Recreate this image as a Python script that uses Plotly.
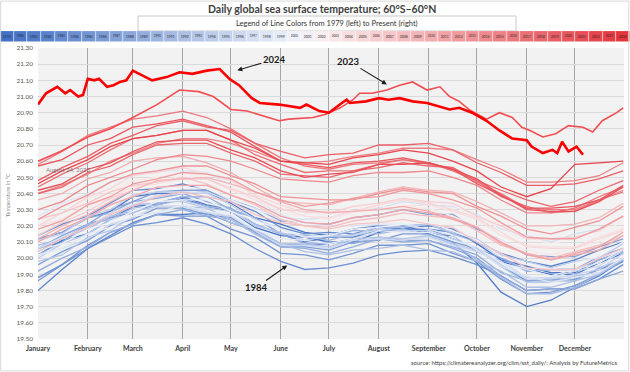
import plotly.graph_objects as go

W, H = 630, 372

# ---------------- data ----------------
days = [1, 16, 32, 46, 60, 75, 91, 106, 121, 136, 152, 167, 182, 197, 213, 228,
        244, 259, 274, 289, 305, 320, 335, 350, 365]

years = list(range(1979, 2025))

sst_1979 = [20.02, 20.11, 20.15, 20.24, 20.32, 20.33, 20.37, 20.32, 20.29, 20.19, 20.14, 20.13, 20.10, 20.10, 20.16, 20.19, 20.15, 20.14, 20.04, 19.98, 19.93, 19.90, 19.90, 19.97, 20.03]
sst_1980 = [20.12, 20.16, 20.25, 20.29, 20.38, 20.40, 20.40, 20.41, 20.34, 20.25, 20.21, 20.16, 20.14, 20.18, 20.20, 20.19, 20.20, 20.18, 20.09, 19.99, 19.95, 19.91, 19.91, 19.99, 20.04]
sst_1981 = [20.06, 20.10, 20.21, 20.25, 20.28, 20.34, 20.38, 20.33, 20.30, 20.25, 20.15, 20.10, 20.13, 20.13, 20.17, 20.20, 20.16, 20.10, 19.97, 19.79, 19.70, 19.74, 19.82, 19.89, 19.99]
sst_1982 = [19.80, 19.93, 20.06, 20.14, 20.22, 20.27, 20.27, 20.28, 20.22, 20.17, 20.09, 20.08, 20.09, 20.12, 20.17, 20.17, 20.18, 20.16, 20.10, 20.03, 19.98, 19.95, 19.99, 20.05, 20.10]
sst_1983 = [20.14, 20.21, 20.26, 20.34, 20.42, 20.43, 20.46, 20.42, 20.35, 20.29, 20.19, 20.15, 20.16, 20.15, 20.19, 20.18, 20.18, 20.12, 20.06, 19.95, 19.86, 19.87, 19.87, 19.93, 19.98]
sst_1984 = [19.88, 19.96, 20.06, 20.13, 20.20, 20.22, 20.25, 20.21, 20.15, 20.06, 19.98, 19.93, 19.94, 19.97, 20.02, 20.04, 20.05, 20.01, 19.96, 19.89, 19.80, 19.81, 19.81, 19.87, 19.96]
sst_1985 = [19.86, 19.96, 20.08, 20.16, 20.21, 20.27, 20.26, 20.26, 20.18, 20.13, 20.03, 20.02, 19.99, 20.03, 20.08, 20.08, 20.09, 20.03, 19.98, 19.87, 19.78, 19.79, 19.83, 19.90, 19.98]
sst_1986 = [19.96, 20.04, 20.11, 20.20, 20.24, 20.31, 20.31, 20.27, 20.25, 20.16, 20.07, 20.07, 20.05, 20.10, 20.11, 20.15, 20.15, 20.10, 20.06, 20.00, 19.92, 19.93, 19.93, 20.01, 20.06]
sst_1987 = [20.06, 20.14, 20.21, 20.30, 20.35, 20.41, 20.42, 20.42, 20.36, 20.31, 20.23, 20.22, 20.21, 20.25, 20.27, 20.30, 20.27, 20.27, 20.18, 20.11, 20.02, 20.01, 20.01, 20.07, 20.12]
sst_1988 = [20.12, 20.16, 20.25, 20.28, 20.35, 20.37, 20.40, 20.35, 20.31, 20.21, 20.15, 20.09, 20.10, 20.09, 20.13, 20.11, 20.11, 20.06, 20.00, 19.89, 19.80, 19.81, 19.81, 19.87, 19.92]
sst_1989 = [19.92, 20.00, 20.07, 20.16, 20.21, 20.27, 20.30, 20.26, 20.24, 20.15, 20.07, 20.06, 20.03, 20.07, 20.12, 20.10, 20.11, 20.07, 20.02, 19.91, 19.86, 19.86, 19.86, 19.94, 19.99]
sst_1990 = [20.02, 20.10, 20.20, 20.25, 20.33, 20.34, 20.38, 20.38, 20.30, 20.25, 20.15, 20.14, 20.13, 20.17, 20.17, 20.20, 20.21, 20.15, 20.10, 20.01, 19.92, 19.93, 19.93, 19.99, 20.04]
sst_1991 = [20.08, 20.12, 20.21, 20.24, 20.31, 20.33, 20.36, 20.32, 20.30, 20.21, 20.15, 20.14, 20.11, 20.15, 20.15, 20.18, 20.14, 20.09, 19.99, 19.88, 19.78, 19.78, 19.82, 19.90, 20.00]
sst_1992 = [20.05, 20.13, 20.18, 20.26, 20.29, 20.32, 20.32, 20.31, 20.24, 20.15, 20.09, 20.04, 20.02, 20.05, 20.06, 20.08, 20.05, 20.04, 19.98, 19.92, 19.82, 19.82, 19.86, 19.90, 19.99]
sst_1993 = [19.98, 20.02, 20.13, 20.17, 20.26, 20.28, 20.33, 20.29, 20.22, 20.18, 20.09, 20.09, 20.07, 20.12, 20.13, 20.12, 20.14, 20.09, 20.05, 19.95, 19.85, 19.85, 19.89, 19.91, 20.00]
sst_1994 = [20.00, 20.09, 20.15, 20.24, 20.28, 20.35, 20.35, 20.31, 20.29, 20.20, 20.16, 20.11, 20.14, 20.14, 20.20, 20.19, 20.21, 20.16, 20.12, 20.02, 19.98, 19.94, 19.98, 20.00, 20.09]
sst_1995 = [20.11, 20.15, 20.26, 20.30, 20.39, 20.41, 20.41, 20.40, 20.33, 20.24, 20.18, 20.13, 20.14, 20.14, 20.18, 20.17, 20.17, 20.12, 20.06, 19.96, 19.87, 19.87, 19.90, 19.93, 20.03]
sst_1996 = [20.02, 20.06, 20.12, 20.21, 20.25, 20.32, 20.32, 20.28, 20.26, 20.17, 20.08, 20.08, 20.06, 20.11, 20.12, 20.11, 20.13, 20.08, 20.04, 19.98, 19.88, 19.88, 19.92, 19.95, 20.05]
sst_1997 = [20.06, 20.13, 20.19, 20.28, 20.33, 20.39, 20.40, 20.41, 20.35, 20.31, 20.25, 20.24, 20.25, 20.29, 20.31, 20.35, 20.33, 20.32, 20.27, 20.18, 20.14, 20.10, 20.15, 20.18, 20.26]
sst_1998 = [20.26, 20.34, 20.40, 20.47, 20.51, 20.54, 20.54, 20.53, 20.45, 20.36, 20.27, 20.22, 20.20, 20.20, 20.21, 20.21, 20.18, 20.14, 20.05, 19.95, 19.89, 19.85, 19.88, 19.91, 20.00]
sst_1999 = [20.02, 20.06, 20.15, 20.19, 20.26, 20.28, 20.33, 20.29, 20.27, 20.18, 20.12, 20.11, 20.09, 20.12, 20.17, 20.16, 20.16, 20.11, 20.07, 19.97, 19.93, 19.89, 19.93, 19.97, 20.06]
sst_2000 = [20.05, 20.09, 20.18, 20.22, 20.29, 20.35, 20.36, 20.36, 20.29, 20.23, 20.18, 20.13, 20.14, 20.18, 20.19, 20.21, 20.22, 20.17, 20.11, 20.01, 19.96, 19.93, 19.97, 20.01, 20.10]
sst_2001 = [20.10, 20.18, 20.25, 20.33, 20.38, 20.44, 20.44, 20.43, 20.36, 20.30, 20.25, 20.21, 20.23, 20.24, 20.25, 20.28, 20.26, 20.25, 20.17, 20.11, 20.03, 20.03, 20.04, 20.08, 20.17]
sst_2002 = [20.16, 20.24, 20.31, 20.39, 20.44, 20.47, 20.51, 20.48, 20.45, 20.37, 20.32, 20.28, 20.27, 20.31, 20.33, 20.36, 20.34, 20.33, 20.25, 20.19, 20.13, 20.09, 20.12, 20.15, 20.23]
sst_2003 = [20.24, 20.28, 20.37, 20.41, 20.48, 20.50, 20.53, 20.49, 20.43, 20.38, 20.28, 20.26, 20.24, 20.28, 20.32, 20.31, 20.31, 20.26, 20.20, 20.10, 20.05, 20.02, 20.06, 20.10, 20.19]
sst_2004 = [20.20, 20.24, 20.33, 20.37, 20.44, 20.46, 20.49, 20.49, 20.42, 20.36, 20.31, 20.26, 20.25, 20.29, 20.30, 20.32, 20.33, 20.29, 20.24, 20.14, 20.08, 20.07, 20.07, 20.13, 20.18]
sst_2005 = [20.20, 20.28, 20.38, 20.43, 20.51, 20.53, 20.56, 20.52, 20.48, 20.39, 20.33, 20.28, 20.29, 20.29, 20.33, 20.36, 20.34, 20.30, 20.25, 20.16, 20.07, 20.06, 20.06, 20.12, 20.17]
sst_2006 = [20.14, 20.22, 20.29, 20.37, 20.42, 20.48, 20.49, 20.49, 20.43, 20.38, 20.30, 20.29, 20.28, 20.32, 20.34, 20.37, 20.35, 20.34, 20.26, 20.20, 20.12, 20.12, 20.13, 20.17, 20.26]
sst_2007 = [20.24, 20.28, 20.34, 20.41, 20.45, 20.47, 20.50, 20.46, 20.39, 20.33, 20.24, 20.20, 20.18, 20.21, 20.22, 20.24, 20.21, 20.19, 20.10, 20.03, 19.94, 19.93, 19.93, 20.00, 20.06]
sst_2008 = [20.04, 20.12, 20.19, 20.27, 20.32, 20.38, 20.41, 20.38, 20.35, 20.27, 20.22, 20.20, 20.19, 20.23, 20.25, 20.28, 20.26, 20.25, 20.17, 20.08, 20.03, 20.00, 20.04, 20.08, 20.14]
sst_2009 = [20.12, 20.20, 20.27, 20.35, 20.42, 20.48, 20.49, 20.50, 20.46, 20.41, 20.35, 20.34, 20.33, 20.37, 20.41, 20.44, 20.42, 20.41, 20.35, 20.28, 20.20, 20.20, 20.21, 20.25, 20.34]
sst_2010 = [20.36, 20.40, 20.49, 20.53, 20.60, 20.62, 20.63, 20.59, 20.53, 20.44, 20.35, 20.30, 20.28, 20.29, 20.30, 20.32, 20.29, 20.25, 20.19, 20.09, 20.03, 19.99, 20.02, 20.05, 20.14]
sst_2011 = [20.10, 20.18, 20.25, 20.33, 20.38, 20.44, 20.45, 20.45, 20.39, 20.34, 20.26, 20.22, 20.21, 20.25, 20.27, 20.30, 20.28, 20.24, 20.19, 20.10, 20.02, 19.99, 20.03, 20.07, 20.16]
sst_2012 = [20.18, 20.23, 20.33, 20.38, 20.46, 20.49, 20.53, 20.52, 20.49, 20.41, 20.36, 20.32, 20.34, 20.37, 20.38, 20.42, 20.40, 20.36, 20.31, 20.22, 20.13, 20.12, 20.12, 20.18, 20.26]
sst_2013 = [20.24, 20.32, 20.39, 20.47, 20.52, 20.54, 20.57, 20.57, 20.51, 20.46, 20.38, 20.37, 20.36, 20.36, 20.40, 20.43, 20.41, 20.40, 20.32, 20.26, 20.18, 20.15, 20.19, 20.23, 20.32]
sst_2014 = [20.30, 20.35, 20.45, 20.50, 20.55, 20.61, 20.64, 20.63, 20.60, 20.55, 20.49, 20.48, 20.47, 20.51, 20.53, 20.53, 20.54, 20.50, 20.45, 20.36, 20.28, 20.28, 20.29, 20.36, 20.42]
sst_2015 = [20.40, 20.45, 20.52, 20.60, 20.65, 20.71, 20.74, 20.74, 20.71, 20.66, 20.60, 20.59, 20.60, 20.63, 20.65, 20.68, 20.68, 20.67, 20.61, 20.55, 20.47, 20.47, 20.48, 20.51, 20.59]
sst_2016 = [20.58, 20.66, 20.76, 20.81, 20.86, 20.88, 20.91, 20.87, 20.80, 20.71, 20.62, 20.57, 20.55, 20.58, 20.59, 20.61, 20.58, 20.56, 20.47, 20.40, 20.31, 20.30, 20.30, 20.36, 20.41]
sst_2017 = [20.44, 20.52, 20.59, 20.67, 20.74, 20.76, 20.79, 20.79, 20.73, 20.64, 20.58, 20.53, 20.54, 20.54, 20.58, 20.61, 20.59, 20.54, 20.48, 20.38, 20.32, 20.28, 20.31, 20.38, 20.44]
sst_2018 = [20.40, 20.44, 20.53, 20.57, 20.64, 20.70, 20.71, 20.71, 20.65, 20.60, 20.52, 20.51, 20.50, 20.54, 20.56, 20.59, 20.57, 20.56, 20.48, 20.42, 20.36, 20.32, 20.35, 20.42, 20.48]
sst_2019 = [20.48, 20.56, 20.63, 20.71, 20.76, 20.82, 20.85, 20.81, 20.79, 20.71, 20.66, 20.62, 20.64, 20.65, 20.70, 20.70, 20.71, 20.67, 20.59, 20.53, 20.45, 20.45, 20.46, 20.49, 20.54]
sst_2020 = [20.57, 20.61, 20.70, 20.74, 20.81, 20.83, 20.86, 20.82, 20.78, 20.69, 20.60, 20.58, 20.56, 20.59, 20.60, 20.62, 20.59, 20.55, 20.49, 20.39, 20.31, 20.31, 20.32, 20.36, 20.45]
sst_2021 = [20.42, 20.46, 20.55, 20.59, 20.66, 20.72, 20.73, 20.73, 20.67, 20.62, 20.54, 20.50, 20.52, 20.53, 20.58, 20.58, 20.59, 20.55, 20.46, 20.39, 20.30, 20.29, 20.29, 20.35, 20.44]
sst_2022 = [20.46, 20.54, 20.61, 20.69, 20.74, 20.76, 20.79, 20.79, 20.73, 20.68, 20.60, 20.59, 20.58, 20.62, 20.64, 20.67, 20.65, 20.60, 20.54, 20.44, 20.38, 20.43, 20.58, 20.59, 20.60]

days_2023 = [1, 15, 32, 46, 60, 75, 89, 101, 110, 121, 131, 151, 157, 172, 180, 189, 197,
             201, 209, 218, 226, 234, 243, 251, 257, 263, 269, 280, 288, 296, 302, 307,
             315, 323, 331, 340, 346, 352, 361, 365]
sst_2023 = [20.60, 20.66, 20.75, 20.80, 20.87, 20.95, 21.04, 21.03, 21.00, 20.92, 20.91,
            20.85, 20.86, 20.87, 20.89, 20.93, 20.98, 21.02, 21.02, 21.04, 21.07, 21.09,
            21.04, 21.06, 21.00, 20.97, 20.92, 20.86, 20.90, 20.87, 20.81, 20.79, 20.75,
            20.77, 20.82, 20.81, 20.78, 20.85, 20.90, 20.93]

days_2024 = [1, 6, 13, 18, 21, 26, 29, 32, 36, 39, 44, 48, 52, 56, 60, 64, 72, 81, 89, 97,
             106, 114, 120, 126, 134, 139, 151, 164, 168, 176, 182, 190, 193, 195, 205,
             213, 219, 226, 234, 243, 257, 263, 271, 280, 288, 296, 305, 308, 315, 321,
             324, 327, 331, 336, 340]
sst_2024 = [20.95, 21.02, 21.06, 21.02, 21.04, 21.00, 21.01, 21.11, 21.10, 21.11, 21.06,
            21.07, 21.09, 21.10, 21.16, 21.14, 21.10, 21.12, 21.15, 21.14, 21.16, 21.17,
            21.11, 21.07, 20.99, 20.96, 20.95, 20.93, 20.95, 20.91, 20.90, 20.96, 20.98,
            20.96, 20.97, 20.99, 20.98, 20.99, 20.97, 20.96, 20.92, 20.93, 20.90, 20.85,
            20.79, 20.74, 20.73, 20.69, 20.65, 20.67, 20.65, 20.72, 20.66, 20.69, 20.64]

series = {
    1979: sst_1979, 1980: sst_1980, 1981: sst_1981, 1982: sst_1982, 1983: sst_1983,
    1984: sst_1984, 1985: sst_1985, 1986: sst_1986, 1987: sst_1987, 1988: sst_1988,
    1989: sst_1989, 1990: sst_1990, 1991: sst_1991, 1992: sst_1992, 1993: sst_1993,
    1994: sst_1994, 1995: sst_1995, 1996: sst_1996, 1997: sst_1997, 1998: sst_1998,
    1999: sst_1999, 2000: sst_2000, 2001: sst_2001, 2002: sst_2002, 2003: sst_2003,
    2004: sst_2004, 2005: sst_2005, 2006: sst_2006, 2007: sst_2007, 2008: sst_2008,
    2009: sst_2009, 2010: sst_2010, 2011: sst_2011, 2012: sst_2012, 2013: sst_2013,
    2014: sst_2014, 2015: sst_2015, 2016: sst_2016, 2017: sst_2017, 2018: sst_2018,
    2019: sst_2019, 2020: sst_2020, 2021: sst_2021, 2022: sst_2022,
}

month_days = [1, 32, 60, 91, 121, 152, 182, 213, 244, 274, 305, 335]
month_names = ["January", "February", "March", "April", "May", "June", "July",
               "August", "September", "October", "November", "December"]
y_ticks = [19.5, 19.6, 19.7, 19.8, 19.9, 20.0, 20.1, 20.2, 20.3, 20.4, 20.5, 20.6,
           20.7, 20.8, 20.9, 21.0, 21.1, 21.2, 21.3]


# ---------------- styling helpers ----------------
def lerp(c1, c2, t):
    return tuple(round(a + (b - a) * t) for a, b in zip(c1, c2))


STOPS = [(0.0, (66, 112, 196)), (0.47, (238, 242, 250)), (0.52, (250, 236, 237)),
         (1.0, (228, 52, 60))]


def color_at(t):
    for (t0, c0), (t1, c1) in zip(STOPS[:-1], STOPS[1:]):
        if t <= t1:
            c = lerp(c0, c1, (t - t0) / (t1 - t0))
            return "rgb(%d,%d,%d)" % c
    return "rgb(%d,%d,%d)" % STOPS[-1][1]


n = len(years)
colors = [color_at(i / (n - 1)) for i in range(n)]

FONT = "Lato, 'Open Sans', sans-serif"

fig = go.Figure()

# year lines, oldest first
for i, yr in enumerate(years):
    if yr in series:
        fig.add_trace(go.Scatter(x=days, y=series[yr], mode="lines",
                                 line=dict(color=colors[i], width=1.3),
                                 hoverinfo="skip", showlegend=False))

fig.add_trace(go.Scatter(x=days_2023, y=sst_2023, mode="lines",
                         line=dict(color="rgb(240,78,82)", width=1.6),
                         hoverinfo="skip", showlegend=False))
fig.add_trace(go.Scatter(x=days_2024, y=sst_2024, mode="lines",
                         line=dict(color="rgb(250,0,0)", width=2.6),
                         hoverinfo="skip", showlegend=False))

# colour legend strip
fig.add_trace(go.Bar(x=[str(y) for y in years], y=[1] * n, xaxis="x2", yaxis="y2",
                     marker=dict(color=colors, line=dict(color="rgba(255,255,255,0.7)", width=0.6)),
                     text=[str(y) for y in years], textposition="inside",
                     insidetextanchor="middle", textangle=0,
                     textfont=dict(size=5, color="#2a2a2a", family=FONT),
                     width=1, hoverinfo="skip", showlegend=False))

x0p, x1p = 38 / W, 624 / W
fig.update_layout(
    width=W, height=H, margin=dict(l=0, r=0, t=0, b=0),
    paper_bgcolor="white", plot_bgcolor="#f2f2f2",
    font=dict(family=FONT, color="#404040"),
    showlegend=False, bargap=0,
    xaxis=dict(domain=[x0p, x1p], range=[1, 365.5], tickvals=month_days,
               ticktext=["<b>%s</b>" % m for m in month_names],
               tickfont=dict(size=7, color="#404040"), showgrid=True,
               gridcolor="#a6a6a6", gridwidth=1, zeroline=False, showline=False,
               ticks="", automargin=False, anchor="y", ticklabelstandoff=4),
    yaxis=dict(domain=[1 - 339 / H, 1 - 48 / H], range=[19.5, 21.3], tickvals=y_ticks,
               tickformat=".2f", tickfont=dict(size=6.5, color="#595959"),
               gridcolor="#dadada", gridwidth=1, zeroline=False, showline=False,
               ticks="", automargin=False, anchor="x", ticklabelstandoff=4),
    xaxis2=dict(domain=[0, 1], anchor="y2", type="category", range=[-0.5, n - 0.5],
                showticklabels=False, showgrid=False, zeroline=False, ticks=""),
    yaxis2=dict(domain=[1 - 42 / H, 1 - 31 / H], anchor="x2", range=[0, 1], visible=False),
)

# legend caption box
fig.add_shape(type="rect", xref="paper", yref="paper", x0=138 / W, x1=516 / W,
              y0=1 - 31 / H, y1=1 - 16 / H, line=dict(color="#c8c8c8", width=1),
              fillcolor="white", layer="below")
# outer frame
fig.add_shape(type="rect", xref="paper", yref="paper", x0=0.001, x1=0.998,
              y0=0.003, y1=0.997, line=dict(color="#d9d9d9", width=1))

ann = []
ann.append(dict(text="<b>Daily global sea surface temperature; 60°S–60°N</b>",
                x=322 / W, y=1 - 9 / H, xref="paper", yref="paper", showarrow=False,
                font=dict(size=10.5, color="#404040"), xanchor="center", yanchor="middle"))
ann.append(dict(text="Legend of Line Colors from 1979 (left) to Present (right)",
                x=327 / W, y=1 - 24 / H, xref="paper", yref="paper", showarrow=False,
                font=dict(size=7.5, color="#333333"), xanchor="center", yanchor="middle"))
ann.append(dict(text="Temperature in °C", x=8 / W, y=1 - 195 / H, xref="paper",
                yref="paper", showarrow=False, textangle=-90,
                font=dict(size=5.5, color="#8a8a8a"), xanchor="center", yanchor="middle"))
ann.append(dict(text="August 24, 2023", x=44 / W, y=1 - 169 / H, xref="paper",
                yref="paper", showarrow=False, font=dict(size=6, color="rgba(90,90,90,0.75)"),
                xanchor="left", yanchor="middle"))
ann.append(dict(text="source: https://climatereanalyzer.org/clim/sst_daily/; Analysis by FutureMetrics",
                x=619 / W, y=1 - 362 / H, xref="paper", yref="paper", showarrow=False,
                font=dict(size=6, color="#404040"), xanchor="right", yanchor="middle"))
# year call-outs
ann.append(dict(text="<b>2024</b>", x=125, y=21.162, xref="x", yref="y", showarrow=True,
                ax=37, ay=-11, arrowhead=2, arrowsize=0.9, arrowwidth=1.1,
                arrowcolor="#1a1a1a", font=dict(size=9.5, color="#1a1a1a")))
ann.append(dict(text="<b>2023</b>", x=218, y=21.075, xref="x", yref="y", showarrow=True,
                ax=-38, ay=-23, arrowhead=2, arrowsize=0.9, arrowwidth=1.1,
                arrowcolor="#1a1a1a", font=dict(size=9.5, color="#1a1a1a")))
ann.append(dict(text="<b>1984</b>", x=156, y=19.955, xref="x", yref="y", showarrow=True,
                ax=-31, ay=22, arrowhead=2, arrowsize=0.9, arrowwidth=1.1,
                arrowcolor="#1a1a1a", font=dict(size=9.5, color="#1a1a1a")))
fig.update_layout(annotations=ann)

fig.write_html("out.html", config={"displayModeBar": False},
               post_script="document.body.style.margin='0px';document.body.style.overflow='hidden';")
